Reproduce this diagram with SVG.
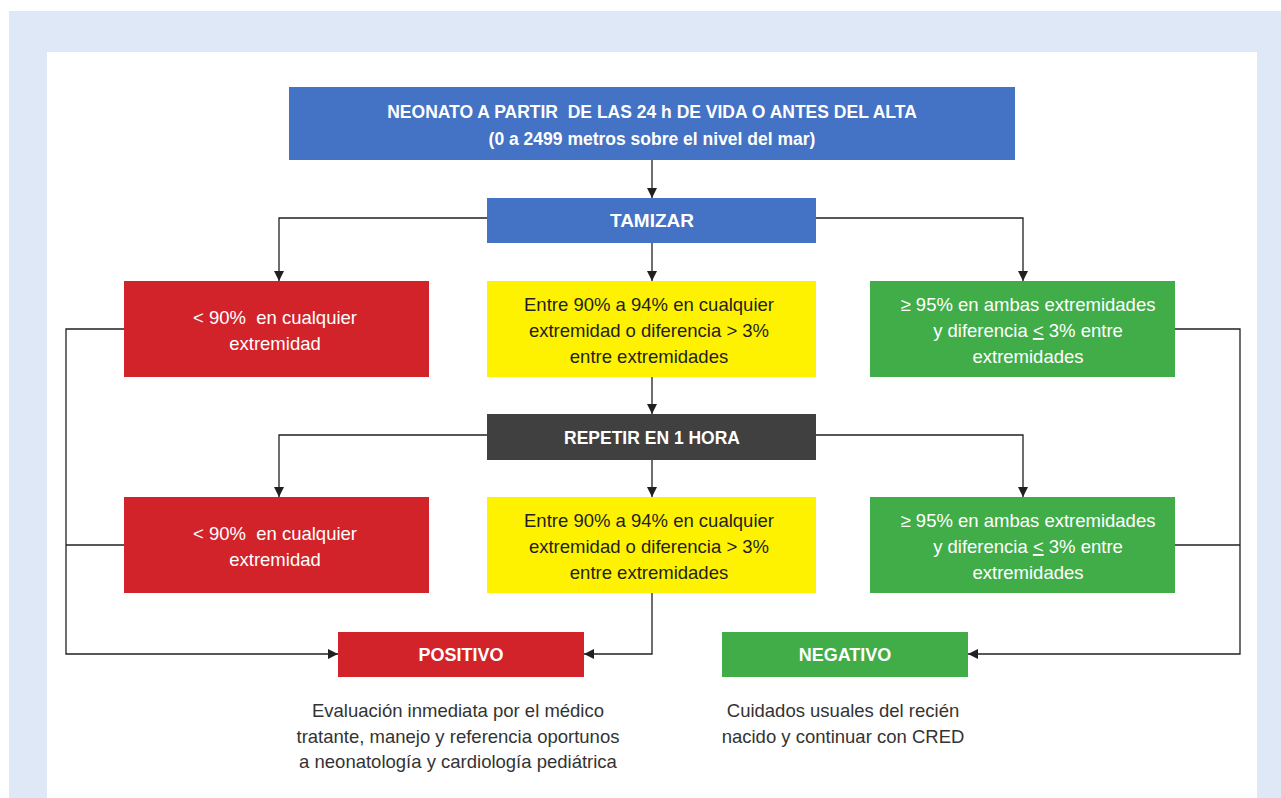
<svg xmlns="http://www.w3.org/2000/svg" width="1281" height="798" viewBox="0 0 1281 798">
<style>
.t{font-family:"Liberation Sans",Arial,sans-serif;font-size:18.5px;text-anchor:middle;white-space:pre}
.b{font-weight:bold;fill:#fff;font-size:18px}
.w{fill:#fff}
.k{fill:#231f20}
.g{fill:#333}
.c{fill:none;stroke:#231f20;stroke-width:1.3}
</style>
<defs>
<marker id="ah" viewBox="0 0 10 10" refX="10" refY="5" markerWidth="10" markerHeight="10" markerUnits="userSpaceOnUse" orient="auto">
<path d="M0,0 L10,5 L0,10 z" fill="#231f20"/>
</marker>
</defs>
<rect x="0" y="0" width="1281" height="798" fill="#fff"/>
<rect x="9" y="11" width="1272" height="787" fill="#dfe8f7"/>
<rect x="47" y="52" width="1210" height="746" fill="#fff"/>

<g id="connectors">
<path class="c" d="M652,160 V198" marker-end="url(#ah)"/>
<path class="c" d="M487,218 H279 V281" marker-end="url(#ah)"/>
<path class="c" d="M816,218 H1023 V281" marker-end="url(#ah)"/>
<path class="c" d="M652,243 V281" marker-end="url(#ah)"/>
<path class="c" d="M652,377 V414" marker-end="url(#ah)"/>
<path class="c" d="M487,435 H279 V497" marker-end="url(#ah)"/>
<path class="c" d="M816,435 H1023 V497" marker-end="url(#ah)"/>
<path class="c" d="M652,460 V497" marker-end="url(#ah)"/>
<path class="c" d="M124,329 H66 V654 H338" marker-end="url(#ah)"/>
<path class="c" d="M124,545 H66"/>
<path class="c" d="M1175,329 H1240 V654 H968" marker-end="url(#ah)"/>
<path class="c" d="M1175,545 H1240"/>
<path class="c" d="M652,593 V654 H584" marker-end="url(#ah)"/>
</g>

<g id="n-start">
<rect x="289" y="87" width="726" height="73" fill="#4472c4"/>
<text class="t b" x="652" y="118" style="font-size:17.5px">NEONATO A PARTIR  DE LAS 24 h DE VIDA O ANTES DEL ALTA</text>
<text class="t b" x="652" y="145" style="font-size:17.5px">(0 a 2499 metros sobre el nivel del mar)</text>
</g>
<g id="n-tamizar">
<rect x="487" y="198" width="329" height="45" fill="#4472c4"/>
<text class="t b" x="652" y="227" style="font-size:19px">TAMIZAR</text>
</g>
<g id="n-r1">
<rect x="124" y="281" width="305" height="96" fill="#d2232a"/>
<text class="t w" x="275" y="324">&lt; 90%  en cualquier</text>
<text class="t w" x="275" y="350">extremidad</text>
</g>
<g id="n-y1">
<rect x="487" y="281" width="329" height="96" fill="#fff200"/>
<text class="t k" x="649" y="311">Entre 90% a 94% en cualquier</text>
<text class="t k" x="649" y="337">extremidad o diferencia &gt; 3%</text>
<text class="t k" x="649" y="363">entre extremidades</text>
</g>
<g id="n-g1">
<rect x="870" y="281" width="305" height="96" fill="#41ad49"/>
<text class="t w" x="1028" y="311">≥ 95% en ambas extremidades</text>
<text class="t w" x="1028" y="337">y diferencia <tspan text-decoration="underline">&lt;</tspan> 3% entre</text>
<text class="t w" x="1028" y="363">extremidades</text>
</g>
<g id="n-repetir">
<rect x="487" y="414" width="329" height="46" fill="#404041"/>
<text class="t b" x="652" y="444" style="font-size:17.5px">REPETIR EN 1 HORA</text>
</g>
<g id="n-r2">
<rect x="124" y="497" width="305" height="96" fill="#d2232a"/>
<text class="t w" x="275" y="540">&lt; 90%  en cualquier</text>
<text class="t w" x="275" y="566">extremidad</text>
</g>
<g id="n-y2">
<rect x="487" y="497" width="329" height="96" fill="#fff200"/>
<text class="t k" x="649" y="527">Entre 90% a 94% en cualquier</text>
<text class="t k" x="649" y="553">extremidad o diferencia &gt; 3%</text>
<text class="t k" x="649" y="579">entre extremidades</text>
</g>
<g id="n-g2">
<rect x="870" y="497" width="305" height="96" fill="#41ad49"/>
<text class="t w" x="1028" y="527">≥ 95% en ambas extremidades</text>
<text class="t w" x="1028" y="553">y diferencia <tspan text-decoration="underline">&lt;</tspan> 3% entre</text>
<text class="t w" x="1028" y="579">extremidades</text>
</g>
<g id="n-positivo">
<rect x="338" y="632" width="246" height="45" fill="#d2232a"/>
<text class="t b" x="461" y="661">POSITIVO</text>
</g>
<g id="n-negativo">
<rect x="722" y="632" width="246" height="45" fill="#41ad49"/>
<text class="t b" x="845" y="661">NEGATIVO</text>
</g>
<g id="n-pos-note">
<text class="t g" x="458" y="717">Evaluación inmediata por el médico</text>
<text class="t g" x="458" y="743">tratante, manejo y referencia oportunos</text>
<text class="t g" x="458" y="768">a neonatología y cardiología pediátrica</text>
</g>
<g id="n-neg-note">
<text class="t g" x="843" y="717">Cuidados usuales del recién</text>
<text class="t g" x="843" y="743">nacido y continuar con CRED</text>
</g>
</svg>
